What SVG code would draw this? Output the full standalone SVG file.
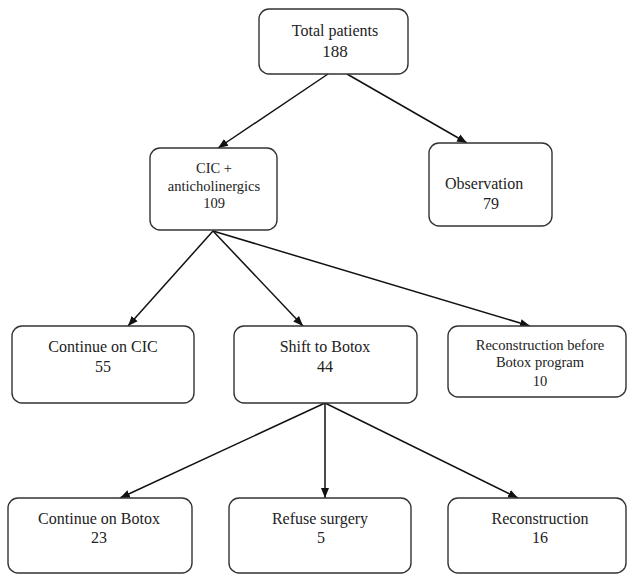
<svg xmlns="http://www.w3.org/2000/svg" width="628" height="574" viewBox="0 0 628 574">
<defs>
<marker id="ah" markerUnits="userSpaceOnUse" markerWidth="10" markerHeight="10" viewBox="0 0 10 10" refX="10" refY="5" orient="auto">
<path d="M0,1 L10,5 L0,9 Z" fill="#111"/>
</marker>
<style>
.box{fill:#fff;stroke:#333;stroke-width:1.4}
text{font-family:'Liberation Serif','DejaVu Serif',serif;font-size:16px;fill:#222;text-anchor:middle}
.s{font-size:14.5px}
.c{fill:none;stroke:#111;stroke-width:1.5}
</style>
</defs>
<rect width="628" height="574" fill="#fff"/>
<g id="connectors">
<line class="c" x1="328" y1="74" x2="218" y2="148" marker-end="url(#ah)"/>
<line class="c" x1="347" y1="74" x2="467" y2="143" marker-end="url(#ah)"/>
<line class="c" x1="213" y1="231" x2="128" y2="326" marker-end="url(#ah)"/>
<line class="c" x1="213" y1="231" x2="303" y2="326" marker-end="url(#ah)"/>
<line class="c" x1="213" y1="231" x2="530" y2="326" marker-end="url(#ah)"/>
<line class="c" x1="325" y1="403" x2="120" y2="498" marker-end="url(#ah)"/>
<line class="c" x1="325" y1="403" x2="325" y2="498" marker-end="url(#ah)"/>
<line class="c" x1="325" y1="403" x2="518" y2="498" marker-end="url(#ah)"/>
</g>
<g id="nodes">
<g id="total">
<rect class="box" x="259" y="9" width="149" height="65" rx="10"/>
<text x="335" y="36">Total patients</text>
<text x="335" y="57" style="font-size:17px">188</text>
</g>
<g id="cic">
<rect class="box" x="150" y="148" width="127" height="82" rx="10"/>
<text class="s" x="214" y="173">CIC +</text>
<text class="s" x="214" y="191">anticholinergics</text>
<text class="s" x="214" y="208">109</text>
</g>
<g id="observation">
<rect class="box" x="429" y="143" width="123" height="83" rx="10"/>
<text x="445" y="189" style="text-anchor:start">Observation</text>
<text x="491" y="209">79</text>
</g>
<g id="continue-cic">
<rect class="box" x="12" y="326" width="182" height="77" rx="10"/>
<text x="103" y="352">Continue on CIC</text>
<text x="103" y="372">55</text>
</g>
<g id="shift-botox">
<rect class="box" x="234" y="326" width="183" height="77" rx="10"/>
<text x="325" y="352">Shift to Botox</text>
<text x="325" y="372">44</text>
</g>
<g id="reconstruction-before">
<rect class="box" x="448" y="326" width="178" height="71" rx="10"/>
<text class="s" x="540" y="350">Reconstruction before</text>
<text class="s" x="540" y="367">Botox program</text>
<text class="s" x="540" y="386">10</text>
</g>
<g id="continue-botox">
<rect class="box" x="8" y="498" width="184" height="75" rx="10"/>
<text x="99" y="524">Continue on Botox</text>
<text x="99" y="543">23</text>
</g>
<g id="refuse-surgery">
<rect class="box" x="229" y="498" width="182" height="75" rx="10"/>
<text x="320" y="524">Refuse surgery</text>
<text x="321" y="543">5</text>
</g>
<g id="reconstruction">
<rect class="box" x="448" y="498" width="178" height="75" rx="10"/>
<text x="540" y="524">Reconstruction</text>
<text x="540" y="543">16</text>
</g>
</g>
</svg>
